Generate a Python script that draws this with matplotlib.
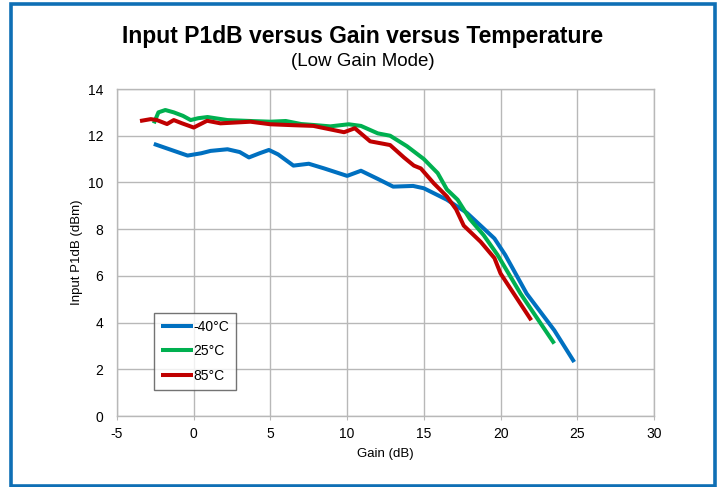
import matplotlib.pyplot as plt
from matplotlib.patches import Rectangle

plt.rcParams['font.family'] = ['Liberation Sans', 'DejaVu Sans']
plt.rcParams['axes.unicode_minus'] = False

# gain (dB) and input P1dB (dBm)
gain_m40 = [-2.6, -1.5, -0.4, 0.5, 1.1, 2.2, 3.0, 3.6, 4.3, 4.9, 5.5, 6.5, 7.5, 8.5,
            10.0, 10.9, 12.0, 13.0, 14.3, 15.0, 16.5, 17.8, 18.7, 19.6, 20.3, 21.7, 23.5, 24.8]
p1db_m40 = [11.65, 11.4, 11.15, 11.25, 11.35, 11.42, 11.3, 11.07, 11.25, 11.39, 11.2, 10.72, 10.8, 10.6,
            10.28, 10.5, 10.15, 9.82, 9.85, 9.75, 9.26, 8.7, 8.15, 7.6, 6.9, 5.24, 3.67, 2.31]

gain_25 = [-2.6, -2.3, -1.85, -1.3, -0.7, -0.2, 0.3, 0.9, 2.2, 3.7, 5.0, 6.0, 7.0, 7.8, 8.9,
           10.1, 10.9, 12.0, 12.8, 13.9, 15.0, 15.9, 16.5, 17.2, 18.0, 18.9, 19.8, 21.3, 23.5]
p1db_25 = [12.53, 13.0, 13.1, 13.0, 12.85, 12.67, 12.75, 12.8, 12.67, 12.63, 12.6, 12.63, 12.5, 12.46, 12.4,
           12.49, 12.42, 12.1, 12.0, 11.55, 11.0, 10.4, 9.7, 9.26, 8.43, 7.74, 6.9, 5.24, 3.1]

gain_85 = [-3.5, -2.8, -2.4, -1.74, -1.3, -0.76, 0.0, 0.87, 1.74, 3.7, 5.0, 6.5, 7.8, 9.8, 10.5,
           11.5, 12.4, 12.8, 13.7, 14.35, 14.8, 15.65, 16.5, 17.1, 17.6, 18.7, 19.6, 20.0, 22.0]
p1db_85 = [12.63, 12.71, 12.67, 12.5, 12.67, 12.53, 12.35, 12.64, 12.53, 12.6, 12.49, 12.45, 12.42, 12.15, 12.32,
           11.76, 11.65, 11.6, 11.07, 10.72, 10.6, 9.96, 9.4, 8.85, 8.15, 7.46, 6.76, 6.1, 4.1]

labels = ["-40°C", "25°C", "85°C"]
colors = ["#0070C0", "#00B050", "#C00000"]

fig = plt.figure(figsize=(7.22, 4.87), dpi=100)
ax = fig.add_axes([117/722, 1 - 416/487, 537/722, 327/487])

#blue frame round the whole picture
fig.patches.append(Rectangle((11/722, 1.5/487), 704/722, 482/487, transform=fig.transFigure,
                             fill=False, edgecolor="#0F6FB5", linewidth=2.6))

series = [(gain_m40, p1db_m40), (gain_25, p1db_25), (gain_85, p1db_85)]
for (gx, py), lab, col in zip(series, labels, colors):
    ax.plot(gx, py, color=col, linewidth=2.9, label=lab,
            solid_joinstyle="round", solid_capstyle="butt")

ax.set_xlim(-5, 30)
ax.set_ylim(0, 14)
ax.set_xticks(range(-5, 31, 5))
ax.set_yticks(range(0, 15, 2))
ax.grid(True, color="#B8B8B8", linewidth=1.0)
ax.set_axisbelow(True)
for s in ax.spines.values():
    s.set_color("#B8B8B8")
    s.set_linewidth(1.0)
ax.tick_params(axis="x", length=3, color="#B8B8B8", labelsize=10, pad=5)
ax.tick_params(axis="y", length=0, labelsize=10, pad=10)

ax.set_xlabel("Gain (dB)", fontsize=9.5, labelpad=5)
ax.set_ylabel("Input P1dB (dBm)", fontsize=9.5, labelpad=3)

fig.text(0.5025, 1 - 36/487, "Input P1dB versus Gain versus Temperature",
         ha="center", va="center", fontsize=16.5, fontweight="bold")
fig.text(0.5025, 1 - 61/487, "(Low Gain Mode)", ha="center", va="center", fontsize=13.5)

leg = ax.legend(loc="upper left", bbox_to_anchor=(0.069, 0.315), borderaxespad=0,
                fontsize=10, frameon=True, fancybox=False, handlelength=2.3,
                handletextpad=0.05, labelspacing=0.75, borderpad=0.5)
leg.get_frame().set_edgecolor("#505050")
leg.get_frame().set_linewidth(1.0)

fig.savefig("out.png", dpi=100)
